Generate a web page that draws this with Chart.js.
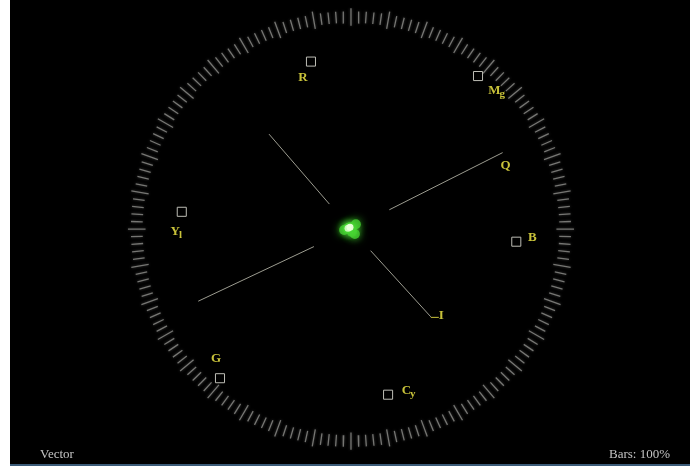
<!DOCTYPE html>
<html lang="en">
<head>
<meta charset="UTF-8">
<title>Vector</title>
<script src="https://cdn.jsdelivr.net/npm/chart.js"></script>
<style>
  html, body { margin: 0; padding: 0; background: #fff; }
  #scope { position: absolute; left: 10px; top: 0; width: 680px; height: 464px; background: #000; border-bottom: 2px solid #3b5b78; }
  #vectorChart { position: absolute; left: 0; top: 0; }
  .caption { position: absolute; top: 446px; font-family: "Liberation Serif", serif; font-size: 13px; color: #c4c4c4; }
</style>
</head>
<body>
<div id="scope">
  <canvas id="vectorChart" width="680" height="464"></canvas>
  <div class="caption" style="left:30px">Vector</div>
  <div class="caption" style="right:20px">Bars: 100%</div>
</div>
<script>
// colour bar targets (angle in degrees, magnitude in scope units)
const targetNames = ['R', 'Mg', 'B', 'Cy', 'G', 'Yl'];
const targetAngles = [103.3, 50.6, 355.6, 282.5, 229.0, 174.1];
const targetLevels = [177.8, 204.6, 169.5, 175.2, 204.1, 173.9];

// I / Q axis lines
const axisNames = ['I', '-I', 'Q', '-Q'];
const axisAngles = [130.5, 312, 27, 205.5];
const axisInner = [34, 30, 44, 42];
const axisOuter = [129, 122, 174, 173];

// graticule ring
const ringInner = 213;
const ringOuter = 225;
const ringMajorInner = 210;
const ringMajorOuter = 228;

// signal trace (the green blob near the centre)
const traceX = [-3, 5, 4, -7, 1, -1];
const traceY = [1, 5, -5, -1, -3, 2];

// label placement (pixel offsets from the target box) - style only
const labelOffsets = { R: [-8, 16], Mg: [19, 15], B: [16, -4], Cy: [21, -4], G: [-4, -20], Yl: [-5, 20] };

function polar(angle, r) {
    const a = angle * Math.PI / 180;
    return { x: r * Math.cos(a), y: r * Math.sin(a) };
}

const targetPoints = targetNames.map((n, i) => polar(targetAngles[i], targetLevels[i]));

const axisPoints = [];
axisNames.forEach((n, i) => {
    axisPoints.push(polar(axisAngles[i], axisInner[i]));
    axisPoints.push(polar(axisAngles[i], axisOuter[i]));
    axisPoints.push({ x: null, y: null });
});

const ringPoints = [];
for (let deg = 0; deg < 360; deg += 2) {
    const major = deg % 10 === 0;
    ringPoints.push(polar(deg, major ? ringMajorInner : ringInner));
    ringPoints.push(polar(deg, major ? ringMajorOuter : ringOuter));
    ringPoints.push({ x: null, y: null });
}

const tracePoints = traceX.map((x, i) => ({ x: x, y: traceY[i] }));

// draws the target names, axis names and a glow for the trace
const labelPlugin = {
    id: 'labels',
    beforeDatasetDraw(chart, args) {
        const l = args.meta.label;
        if (l === 'trace glow' || l === 'trace' || l === 'ring') {
            chart.ctx.save();
            chart.ctx.shadowColor = l === 'ring' ? 'rgba(150,150,150,0.6)' : 'rgba(80,230,60,0.9)';
            chart.ctx.shadowBlur = l === 'ring' ? 3 : 8;
        }
    },
    afterDatasetDraw(chart, args) {
        const l = args.meta.label;
        if (l === 'trace glow' || l === 'trace' || l === 'ring') {
            chart.ctx.restore();
        }
    },
    afterDatasetsDraw(chart) {
        const ctx = chart.ctx;
        const xs = chart.scales.x, ys = chart.scales.y;
        ctx.save();
        ctx.fillStyle = '#c8c23a';
        ctx.textBaseline = 'middle';
        targetNames.forEach((name, i) => {
            const px = xs.getPixelForValue(targetPoints[i].x) + labelOffsets[name][0];
            const py = ys.getPixelForValue(targetPoints[i].y) + labelOffsets[name][1];
            drawName(ctx, name, px, py);
        });
        // Q label at the end of the Q line
        const q = polar(axisAngles[2], axisOuter[2]);
        drawName(ctx, 'Q', xs.getPixelForValue(q.x) + 3, ys.getPixelForValue(q.y) + 13);
        // -I label with its dash
        const mi = polar(axisAngles[1], axisOuter[1]);
        const ix = xs.getPixelForValue(mi.x), iy = ys.getPixelForValue(mi.y);
        ctx.strokeStyle = '#c8c23a';
        ctx.lineWidth = 1;
        ctx.beginPath();
        ctx.moveTo(ix, iy + 0.5);
        ctx.lineTo(ix + 8, iy + 0.5);
        ctx.stroke();
        ctx.font = 'bold 13px "Liberation Serif", serif';
        ctx.textAlign = 'left';
        ctx.fillText('I', ix + 8, iy - 1);
        ctx.restore();
    }
};

function drawName(ctx, name, x, y) {
    const main = name[0];
    const sub = name.slice(1);
    ctx.font = 'bold 13px "Liberation Serif", serif';
    const wMain = ctx.measureText(main).width;
    ctx.font = 'bold 11px "Liberation Serif", serif';
    const wSub = sub ? ctx.measureText(sub).width : 0;
    const left = x - (wMain + wSub) / 2;
    ctx.textAlign = 'left';
    ctx.font = 'bold 13px "Liberation Serif", serif';
    ctx.fillText(main, left, y);
    if (sub) {
        ctx.font = 'bold 11px "Liberation Serif", serif';
        ctx.fillText(sub, left + wMain - 1, y + 3);
    }
}

const ctx = document.getElementById('vectorChart').getContext('2d');
const chart = new Chart(ctx, {
    type: 'scatter',
    data: {
        datasets: [
            {
                label: 'ring',
                data: ringPoints,
                order: 5,
                showLine: true,
                spanGaps: false,
                pointRadius: 0,
                borderColor: 'rgba(150,150,145,0.75)',
                borderWidth: 1.3
            },
            {
                label: 'axes',
                data: axisPoints,
                order: 4,
                showLine: true,
                spanGaps: false,
                pointRadius: 0,
                borderColor: 'rgba(195,195,180,0.8)',
                borderWidth: 1
            },
            {
                label: 'targets',
                data: targetPoints,
                order: 3,
                pointStyle: 'rect',
                pointRadius: 6.4,
                backgroundColor: 'rgba(0,0,0,0)',
                borderColor: '#bdbdb5',
                borderWidth: 1
            },
            {
                label: 'trace glow',
                data: tracePoints,
                order: 2,
                pointRadius: 5,
                backgroundColor: 'rgba(70,205,50,0.8)',
                borderWidth: 0
            },
            {
                label: 'trace',
                data: tracePoints.slice(0, 1).concat(tracePoints.slice(5)),
                order: 1,
                pointRadius: 3.5,
                backgroundColor: 'rgba(235,255,220,0.95)',
                borderWidth: 0
            }
        ]
    },
    options: {
        responsive: false,
        animation: false,
        layout: { padding: 0 },
        plugins: {
            legend: { display: false },
            tooltip: { enabled: false }
        },
        scales: {
            x: { type: 'linear', display: false, min: -341, max: 339 },
            y: { type: 'linear', display: false, min: -235, max: 229 }
        }
    },
    plugins: [labelPlugin]
});
</script>
</body>
</html>
